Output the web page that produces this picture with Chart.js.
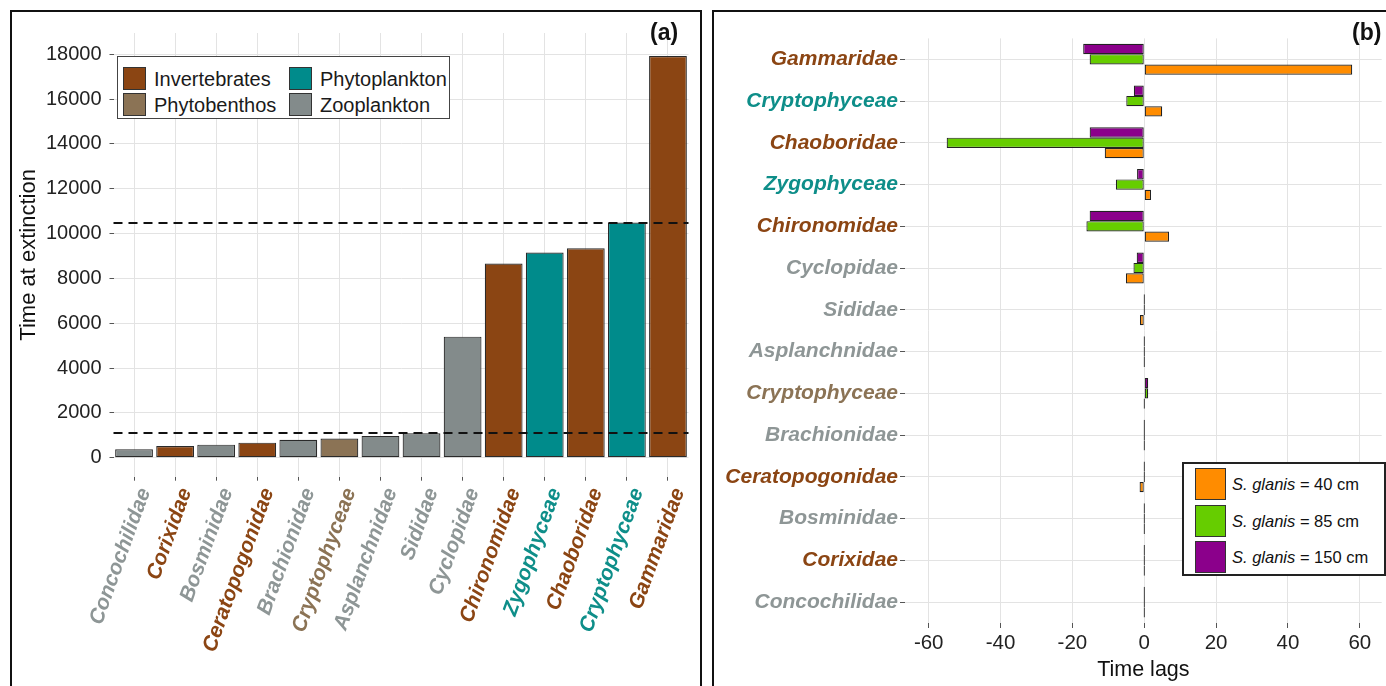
<!DOCTYPE html>
<html><head><meta charset="utf-8">
<script src="https://cdn.jsdelivr.net/npm/chart.js@4.4.1/dist/chart.umd.min.js"></script>
<style>
html,body{margin:0;padding:0;background:#fff;width:1386px;height:686px;overflow:hidden;font-family:'Liberation Sans',Arial,sans-serif;}
.frame{position:absolute;box-sizing:border-box;border:2px solid #111;}
#frameA{left:10px;top:10px;width:692px;height:720px;}
#frameB{left:712px;top:10px;width:720px;height:720px;}
.wrap{position:absolute;}
#wrapA{left:12px;top:12px;width:688px;height:674px;}
#wrapB{left:714px;top:12px;width:672px;height:674px;}
.tag{position:absolute;font-weight:bold;font-size:23px;color:#111;line-height:1;}
.legend{position:absolute;box-sizing:border-box;background:#fff;}
#legA{left:117px;top:56px;width:333px;height:63px;border:1.5px solid #444;}
#legB{left:1182px;top:462px;width:204px;height:114px;border:2px solid #222;}
.sw{position:absolute;box-sizing:border-box;border:1px solid #333;}
.lt{position:absolute;white-space:nowrap;color:#111;line-height:1;}
</style>
</head><body>
<div class="frame" id="frameA"></div>
<div class="frame" id="frameB"></div>
<div class="wrap" id="wrapA"><canvas id="cA" width="688" height="674"></canvas></div>
<div class="wrap" id="wrapB"><canvas id="cB" width="672" height="674"></canvas></div>
<div class="tag" style="left:650px;top:21px;">(a)</div>
<div class="tag" style="left:1352px;top:21px;">(b)</div>
<div class="legend" id="legA"></div>
<div class="legend" id="legB"></div>
<script>
const FONT = "'Liberation Sans', Arial, sans-serif";

// ---------- Panel (a) data ----------
const categoriesA = ['Concochilidae','Corixidae','Bosminidae','Ceratopogonidae','Brachionidae','Cryptophyceae','Asplanchnidae','Sididae','Cyclopidae','Chironomidae','Zygophyceae','Chaoboridae','Cryptophyceae','Gammaridae'];
const groupsA = ['Zooplankton','Invertebrates','Zooplankton','Invertebrates','Zooplankton','Phytobenthos','Zooplankton','Zooplankton','Zooplankton','Invertebrates','Phytoplankton','Invertebrates','Phytoplankton','Invertebrates'];
const timeAtExtinction = [370, 520, 580, 670, 800, 850, 970, 1090, 5400, 8660, 9150, 9345, 10490, 17920];
const thresholdLines = [1090, 10490];
const yTicksA = [0, 2000, 4000, 6000, 8000, 10000, 12000, 14000, 16000, 18000];

// ---------- Groups ----------
const groupNames = ['Invertebrates','Phytobenthos','Phytoplankton','Zooplankton'];
const groupFill = ['#8B4513','#8B7355','#008B8B','#838B8B'];
const groupText = ['#8B4513','#8B7355','#0E8E89','#8E9696'];

// ---------- Panel (b) data ----------
const categoriesB = ['Gammaridae','Cryptophyceae','Chaoboridae','Zygophyceae','Chironomidae','Cyclopidae','Sididae','Asplanchnidae','Cryptophyceae','Brachionidae','Ceratopogonidae','Bosminidae','Corixidae','Concochilidae'];
const groupsB = ['Invertebrates','Phytoplankton','Invertebrates','Phytoplankton','Invertebrates','Zooplankton','Zooplankton','Zooplankton','Phytobenthos','Zooplankton','Invertebrates','Zooplankton','Invertebrates','Zooplankton'];
const lag40  = [57.9, 5.0, -11.0, 1.9, 6.9, -5.1, -1.2, 0, 0, 0, -1.3, 0, 0, 0];
const lag85  = [-15.2, -5.0, -55.0, -7.9, -16.1, -3.0, 0, 0, 1.1, 0, 0, 0, 0, 0];
const lag150 = [-17.0, -2.9, -15.2, -2.0, -15.2, -2.1, 0, 0, 1.1, 0, 0, 0, 0, 0];
const sizeLabels = ['40 cm','85 cm','150 cm'];
const sizeColors = ['#FF8C00','#66CD00','#8B008B'];
const xTicksB = [-60, -40, -20, 0, 20, 40, 60];

const gi = g => groupNames.indexOf(g);

// ---------- Legends (HTML) ----------
(function(){
  const leg = document.getElementById('legA');
  groupNames.forEach((g,i)=>{
    const col = Math.floor(i/2), row = i%2;
    const x = 5 + col*166, y = 10 + row*25.5;
    const sw = document.createElement('div'); sw.className='sw';
    Object.assign(sw.style,{left:x+'px',top:y+'px',width:'23px',height:'23px',background:groupFill[i]});
    leg.appendChild(sw);
    const t = document.createElement('div'); t.className='lt'; t.textContent=g;
    Object.assign(t.style,{left:(x+31)+'px',top:(y+2)+'px',fontSize:'20px',color:'#1a1a1a'});
    leg.appendChild(t);
  });
  const legB = document.getElementById('legB');
  sizeLabels.forEach((s,i)=>{
    const y = 4 + i*36.7;
    const sw = document.createElement('div'); sw.className='sw';
    Object.assign(sw.style,{left:'11px',top:y+'px',width:'31px',height:'32px',background:sizeColors[i]});
    legB.appendChild(sw);
    const t = document.createElement('div'); t.className='lt';
    t.innerHTML = '<i>S. glanis</i> = ' + s;
    Object.assign(t.style,{left:'48px',top:(y+8)+'px',fontSize:'16.5px'});
    legB.appendChild(t);
  });
})();

// ---------- Plugin: dashed reference lines ----------
const dashPlugin = {
  id:'dashLines',
  afterDatasetsDraw(chart){
    const {ctx, chartArea:a} = chart; const y = chart.scales.y;
    ctx.save(); ctx.strokeStyle='#111'; ctx.lineWidth=2; ctx.setLineDash([9,6]);
    thresholdLines.forEach(v=>{
      const py = Math.round(y.getPixelForValue(v));
      ctx.beginPath(); ctx.moveTo(a.left, py); ctx.lineTo(a.right, py); ctx.stroke();
    });
    ctx.restore();
  }
};

const GRID = '#e3e3e3';
const TICKC = '#555';

// ---------- Chart (a) ----------
new Chart(document.getElementById('cA'), {
  type:'bar',
  data:{labels:categoriesA, datasets:[{
    data: timeAtExtinction,
    backgroundColor: groupsA.map(g=>groupFill[gi(g)]),
    borderColor:'#2a2a2a', borderWidth:1.2, borderSkipped:false,
    barPercentage:0.92, categoryPercentage:1
  }]},
  options:{
    responsive:false, animation:false,
    layout:{padding:{left:0,right:11.5,top:21,bottom:0}},
    plugins:{legend:{display:false}, tooltip:{enabled:false}},
    scales:{
      x:{
        offset:true,
        grid:{offset:false, color:GRID, lineWidth:1, tickColor:TICKC, tickLength:4},
        border:{display:false},
        ticks:{autoSkip:false, minRotation:70, maxRotation:70, padding:4, labelOffset:11,
          color: c=>groupText[gi(groupsA[c.index])],
          font:{family:FONT, size:21, style:'italic', weight:'bold'}},
        afterFit(s){ s.height=209.3; s.paddingLeft=0; s.paddingRight=0; }
      },
      y:{
        min:-850, max:18950,
        afterBuildTicks(s){ s.ticks = yTicksA.map(v=>({value:v})); },
        grid:{color:GRID, lineWidth:1, tickColor:TICKC, tickLength:4},
        border:{display:false},
        ticks:{color:'#222', font:{family:FONT, size:20}, padding:8, callback:v=>String(v)},
        title:{display:true, text:'Time at extinction', color:'#111', font:{family:FONT, size:22}, padding:{top:4,bottom:0}},
        afterFit(s){ s.width=101.5; s.paddingTop=0; s.paddingBottom=0; }
      }
    }
  },
  plugins:[dashPlugin]
});

// ---------- Chart (b) ----------
const drawOrder = [2,1,0]; // top-to-bottom within each category: 150, 85, 40 cm
const lagSeries = [lag40, lag85, lag150];
new Chart(document.getElementById('cB'), {
  type:'bar',
  data:{labels:categoriesB, datasets: drawOrder.map(i=>({
    label:'S. glanis = '+sizeLabels[i],
    data: lagSeries[i],
    backgroundColor: sizeColors[i],
    borderColor:'#222', borderWidth:1.2, borderSkipped:false,
    categoryPercentage:0.74, barPercentage:1, minBarLength:1.2
  }))},
  options:{
    indexAxis:'y',
    responsive:false, animation:false,
    layout:{padding:{left:0,right:4.3,top:26.4,bottom:0}},
    plugins:{legend:{display:false}, tooltip:{enabled:false}},
    scales:{
      y:{
        offset:true,
        grid:{offset:false, color:GRID, lineWidth:1, tickColor:TICKC, tickLength:5},
        border:{display:false},
        ticks:{autoSkip:false, padding:2,
          color: c=>groupText[gi(groupsB[c.index])],
          font:{family:FONT, size:21, style:'italic', weight:'bold'}},
        afterFit(s){ s.width=191; s.paddingTop=0; s.paddingBottom=0; }
      },
      x:{
        min:-66.6, max:66.1,
        afterBuildTicks(s){ s.ticks = xTicksB.map(v=>({value:v})); },
        grid:{color:GRID, lineWidth:1, tickColor:TICKC, tickLength:5},
        border:{display:false},
        ticks:{color:'#222', font:{family:FONT, size:20.5}, padding:3, callback:v=>String(v)},
        title:{display:true, text:'Time lags', color:'#111', font:{family:FONT, size:21.5}, padding:{top:0,bottom:3}},
        afterFit(s){ s.height=63; s.paddingLeft=0; s.paddingRight=0; }
      }
    }
  }
});
</script>
</body></html>
